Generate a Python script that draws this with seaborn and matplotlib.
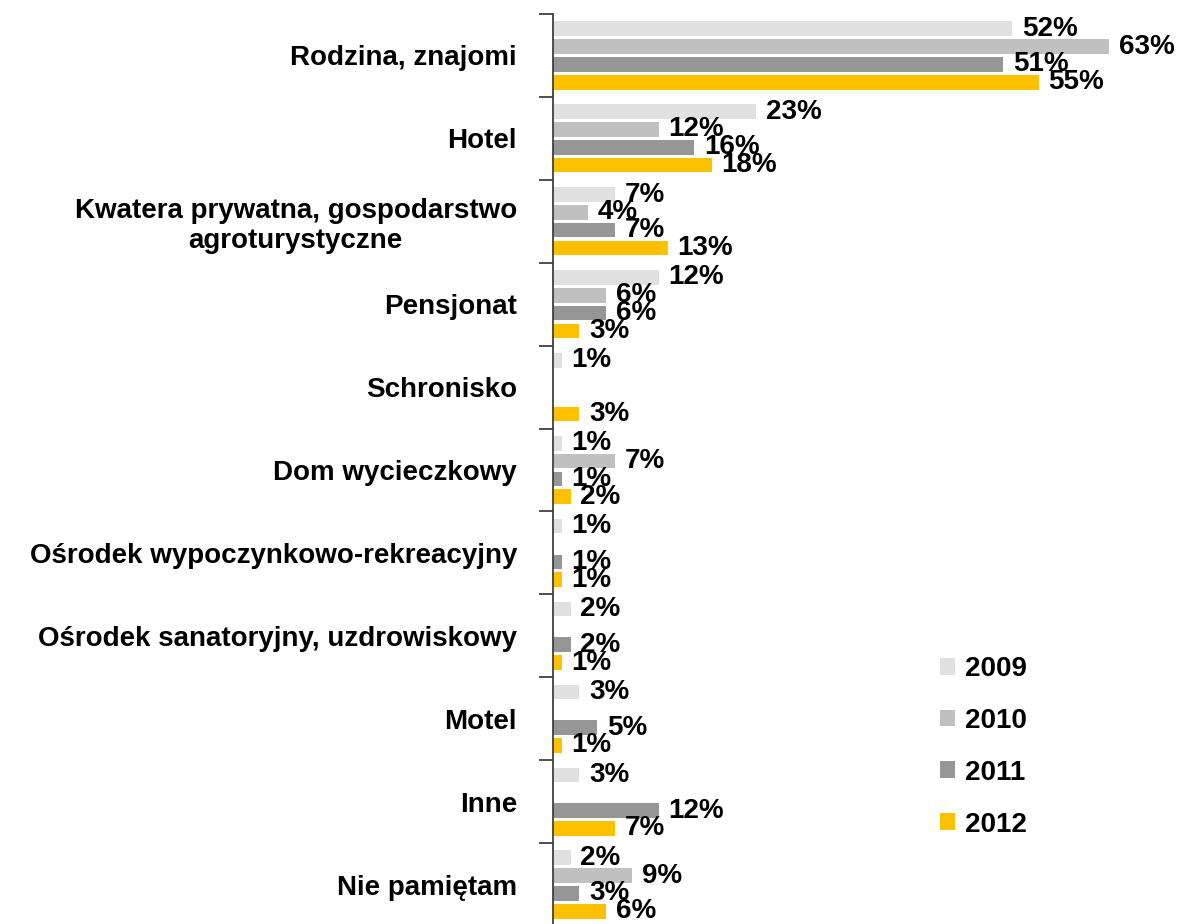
import numpy as np
import pandas as pd
import matplotlib
matplotlib.use("Agg")
import matplotlib.pyplot as plt
import seaborn as sns

categories = [
    "Rodzina, znajomi",
    "Hotel",
    "Kwatera prywatna, gospodarstwo\nagroturystyczne",
    "Pensjonat",
    "Schronisko",
    "Dom wycieczkowy",
    "Ośrodek wypoczynkowo-rekreacyjny",
    "Ośrodek sanatoryjny, uzdrowiskowy",
    "Motel",
    "Inne",
    "Nie pamiętam",
]
years = ["2009", "2010", "2011", "2012"]
v2009 = [52, 23, 7, 12, 1, 1, 1, 2, 3, 3, 2]
v2010 = [63, 12, 4, 6, np.nan, 7, np.nan, np.nan, np.nan, np.nan, 9]
v2011 = [51, 16, 7, 6, np.nan, 1, 1, 2, 5, 12, 3]
v2012 = [55, 18, 13, 3, 3, 2, 1, 1, 1, 7, 6]
colors = ["#e0e0e0", "#c0c0c0", "#969696", "#ffc000"]

df = pd.DataFrame({
    "kategoria": categories * 4,
    "rok": np.repeat(years, len(categories)),
    "udzial": v2009 + v2010 + v2011 + v2012,
})

sns.set_style("white")
plt.rcParams["font.family"] = ["Liberation Sans", "DejaVu Sans"]
plt.rcParams["font.weight"] = "bold"
plt.rcParams["text.color"] = "black"
plt.rcParams["ytick.labelcolor"] = "black"

FS = 20
W, H = 1180, 924
fig = plt.figure(figsize=(W / 100, H / 100), dpi=100)
ax = fig.add_axes([553 / W, -2 / H, 618 / W, 912 / H])

sns.barplot(
    data=df, y="kategoria", x="udzial", hue="rok",
    order=categories, hue_order=years, palette=colors, saturation=1,
    orient="h", width=0.86, gap=0.18, linewidth=0,
    errorbar=None, ax=ax,
)

ax.set_xlim(0, 70)
ax.set_ylim(len(categories) - 0.5, -0.5)
ax.set_xlabel("")
ax.set_ylabel("")

# value labels at the bar ends
for cont in ax.containers:
    ax.bar_label(cont, fmt="%.0f%%", padding=7, fontsize=FS,
                 fontweight="bold", color="black")

# category labels at centres, tick marks at group boundaries
ax.set_yticks(range(len(categories)))
ax.set_yticklabels(categories, fontsize=FS, fontweight="bold",
                   multialignment="center", color="black")
ax.tick_params(axis="y", which="major", length=0, pad=26)
ax.set_yticks(np.arange(-0.5, len(categories), 1.0), minor=True)
ax.tick_params(axis="y", which="minor", length=10, width=1.3,
               color="#404040", left=True)
ax.tick_params(axis="x", bottom=False, labelbottom=False)

for side in ["top", "right", "bottom"]:
    ax.spines[side].set_visible(False)
ax.spines["left"].set_color("#404040")
ax.spines["left"].set_linewidth(1.3)

handles, labels = ax.get_legend_handles_labels()
leg = ax.legend(
    handles, labels, frameon=False, loc="upper left",
    bbox_to_anchor=(915 / W, 1 - 631 / H), bbox_transform=fig.transFigure,
    prop={"size": FS, "weight": "bold"},
    handlelength=0.55, handleheight=0.55, handletextpad=0.35,
    labelspacing=0.93,
)
for t in leg.get_texts():
    t.set_color("black")

fig.savefig("out.png", dpi=100, facecolor="white")
